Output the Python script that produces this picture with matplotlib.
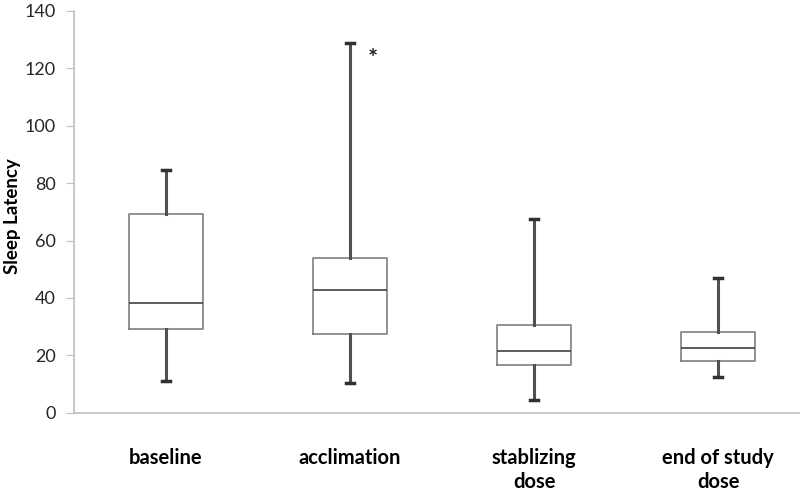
import matplotlib.pyplot as plt

plt.rcParams['font.family'] = ['Lato', 'DejaVu Sans']

categories = ['baseline', 'acclimation', 'stablizing\ndose', 'end of study\ndose']
whislo = [11.0, 10.3, 4.5, 12.5]
q1 = [29.2, 27.5, 16.7, 18.1]
medians = [38.4, 42.8, 21.6, 22.6]
q3 = [69.3, 54.0, 30.7, 28.2]
whishi = [84.6, 128.9, 67.6, 46.8]

stats = []
for i, name in enumerate(categories):
    stats.append({'label': name, 'whislo': whislo[i], 'q1': q1[i], 'med': medians[i],
                  'q3': q3[i], 'whishi': whishi[i], 'fliers': []})

fig = plt.figure(figsize=(8, 4.95), dpi=100)
ax = fig.add_axes([0.0925, 0.166, 0.92, 0.812])

positions = list(range(len(categories)))
ax.bxp(stats, positions=positions, widths=0.4, capwidths=0.045,
       boxprops=dict(color='#7f7f7f', linewidth=1.2),
       medianprops=dict(color='#404040', linewidth=1.2),
       whiskerprops=dict(color='#505050', linewidth=2.2),
       capprops=dict(color='#303030', linewidth=2.5))

ax.text(1.125, 123, '*', ha='center', va='center', fontsize=17, fontweight='bold', color='#222222')

ax.set_xlim(-0.5, 3.5)
ax.set_ylim(0, 140)
ax.set_yticks(range(0, 141, 20))
ax.set_xticks(positions)
ax.set_xticklabels(categories, fontsize=14.5, fontweight='bold', va='top', linespacing=1.25)
ax.tick_params(axis='x', length=0, pad=25)
ax.tick_params(axis='y', direction='out', length=6, color='#bfbfbf', labelsize=13,
               labelcolor='#262626', pad=7)
ax.set_ylabel('Sleep Latency', fontsize=13.5, fontweight='bold', va='center')
ax.yaxis.set_label_coords(-0.083, 0.49)

for side in ['top', 'right']:
    ax.spines[side].set_visible(False)
for side in ['left', 'bottom']:
    ax.spines[side].set_color('#bfbfbf')
    ax.spines[side].set_linewidth(1.2)

fig.savefig('out.png', dpi=100)
